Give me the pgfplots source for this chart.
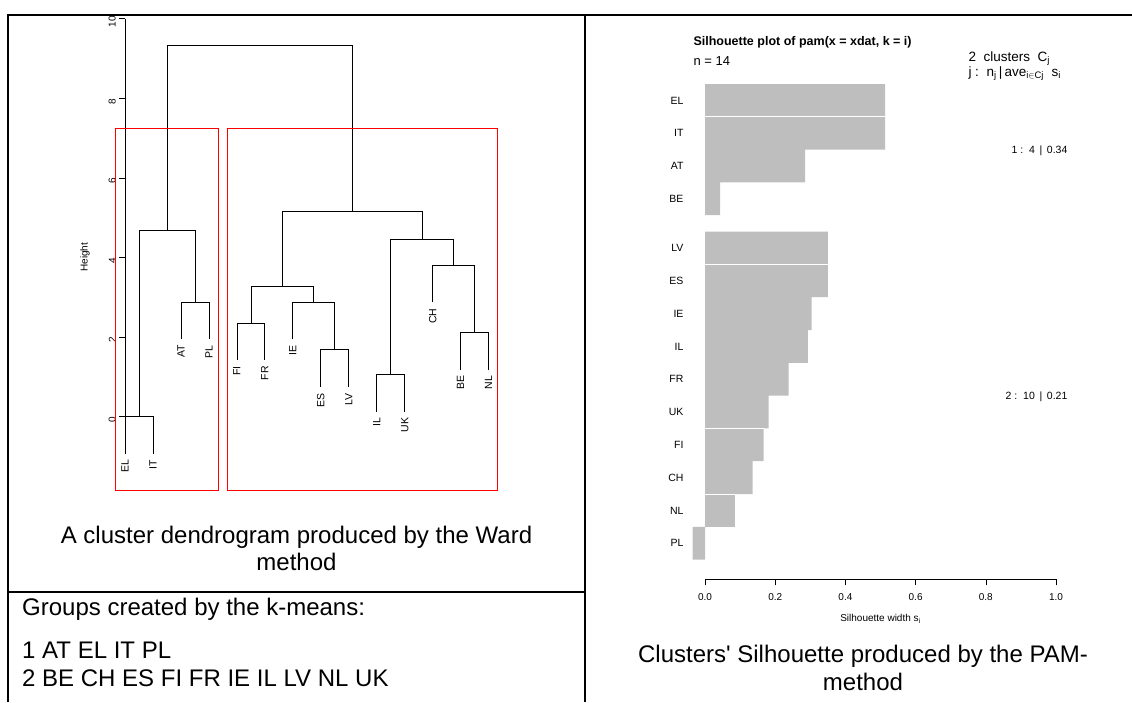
\documentclass[border=0pt]{standalone}
\usepackage{pgfplots}
\pgfplotsset{compat=1.18}
\usepackage{fontspec}
\setmainfont{Liberation Sans}
\definecolor{silgray}{RGB}{190,190,190}
\newcommand\fs[1]{\fontsize{#1}{#1}\selectfont}

% dendrogram: leaf position, height (one U per merge, nan = break)
\pgfplotstableread{
x h
1 -0.93
1 0
2 0
2 -0.93
nan nan
3 1.95
3 2.88
4 2.88
4 1.95
nan nan
1.5 0
1.5 4.67
3.5 4.67
3.5 2.88
nan nan
5 1.42
5 2.35
6 2.35
6 1.42
nan nan
8 0.75
8 1.68
9 1.68
9 0.75
nan nan
7 1.94
7 2.87
8.5 2.87
8.5 1.68
nan nan
5.5 2.35
5.5 3.27
7.75 3.27
7.75 2.87
nan nan
10 0.13
10 1.06
11 1.06
11 0.13
nan nan
13 1.18
13 2.11
14 2.11
14 1.18
nan nan
12 2.87
12 3.80
13.5 3.80
13.5 2.11
nan nan
10.5 1.06
10.5 4.46
12.75 4.46
12.75 3.80
nan nan
6.625 3.27
6.625 5.17
11.625 5.17
11.625 4.46
nan nan
2.5 4.67
2.5 9.33
9.125 9.33
9.125 5.17
}\dendro

\pgfplotstableread{
x h label
1 -0.93 EL
2 -0.93 IT
3 1.95 AT
4 1.95 PL
5 1.42 FI
6 1.42 FR
7 1.94 IE
8 0.75 ES
9 0.75 LV
10 0.13 IL
11 0.13 UK
12 2.87 CH
13 1.18 BE
14 1.18 NL
}\leaves

% silhouette widths, bar position (negative = top down)
\pgfplotstableread{
s pos
0.513 -1
0.513 -2
0.285 -3
0.043 -4
0.350 -5.5
0.350 -6.5
0.304 -7.5
0.293 -8.5
0.238 -9.5
0.181 -10.5
0.167 -11.5
0.136 -12.5
0.085 -13.5
-0.035 -14.5
}\sil

\pgfplotstableread{
x y
0 -1.5
0.513 -1.5
nan nan
0 -6
0.350 -6
nan nan
0 -11
0.167 -11
nan nan
0 -13
0.085 -13
}\gaps

\begin{document}
\begin{tikzpicture}
\useasboundingbox (0pt,0pt) rectangle (1132pt,-702pt);

\begin{scope}
\clip (9pt,-16pt) rectangle (584pt,-591pt);
\begin{axis}[
  at={(125pt,-416.7pt)}, anchor=south west,
  scale only axis, width=363.6pt, height=398pt,
  xmin=1, xmax=14, ymin=0, ymax=10,
  clip=false,
  axis y line*=left, axis x line=none,
  xtick=\empty,
  ytick={0,2,4,6,8,10},
  tick align=outside, major tick length=5.7pt,
  every tick/.style={black, line width=0.6pt},
  y axis line style={black, line width=0.6pt},
  yticklabel style={rotate=90, anchor=south, font=\fs{10}, xshift=-3pt},
  /pgf/number format/assume math mode=true,
  unbounded coords=jump,
]
\addplot[black, line width=0.7pt, mark=none] table[x=x, y=h] {\dendro};
\addplot[draw=none, mark=none, nodes near coords, point meta=explicit symbolic,
  every node near coord/.style={rotate=90, anchor=east, inner xsep=6pt, inner ysep=0pt, font=\fs{10.5}}]
  table[x=x, y=h, meta=label] {\leaves};
\addplot[red, line width=0.8pt, mark=none] coordinates {(0.66,-1.86) (4.33,-1.86) (4.33,7.25) (0.66,7.25) (0.66,-1.86)};
\addplot[red, line width=0.8pt, mark=none] coordinates {(4.66,-1.86) (14.33,-1.86) (14.33,7.25) (4.66,7.25) (4.66,-1.86)};
\node[rotate=90, font=\fs{10}] at (axis cs:-0.43,4.01) {Height};
\end{axis}
\end{scope}

\begin{axis}[
  at={(705pt,-579.3pt)}, anchor=south west,
  scale only axis, width=351pt, height=495.3pt,
  xmin=0, xmax=1, ymin=-15.6, ymax=-0.5,
  clip=false,
  axis x line*=bottom, axis y line*=left,
  y axis line style={draw=none},
  x axis line style={black, line width=0.6pt},
  ytick={-1,-2,-3,-4,-5.5,-6.5,-7.5,-8.5,-9.5,-10.5,-11.5,-12.5,-13.5,-14.5},
  yticklabels={EL,IT,AT,BE,LV,ES,IE,IL,FR,UK,FI,CH,NL,PL},
  ytick style={draw=none},
  xtick={0,0.2,0.4,0.6,0.8,1},
  xtick style={black, line width=0.6pt},
  tick align=outside, major tick length=6pt,
  xticklabel style={font=\fs{10}, yshift=-5pt, /pgf/number format/.cd, fixed, fixed zerofill, precision=1},
  yticklabel style={font=\fs{10.5}, xshift=-12pt},
  /pgf/number format/assume math mode=true,
  unbounded coords=jump,
]
\addplot[xbar, bar width=1, bar shift=0pt, fill=silgray, draw=none] table[x=s, y=pos] {\sil};
\addplot[white, line width=0.7pt, mark=none] table[x=x, y=y] {\gaps};
\node[anchor=base east, inner sep=0pt, font=\fs{10.5}] at (axis cs:1.033,-2.5) [yshift=-4pt] {1 :\ \ 4 \,|\, 0.34};
\node[anchor=base east, inner sep=0pt, font=\fs{10.5}] at (axis cs:1.033,-10) [yshift=-4pt] {2 :\ \ 10 \,|\, 0.21};
\node[anchor=base, inner sep=0pt, font=\fs{10}] at (axis cs:0.5,-15.6) [yshift=-42.4pt] {Silhouette width s\textsubscript{i}};
\end{axis}

\begin{scope}[every node/.style={inner sep=0pt}]
% silhouette header
\node[anchor=base west, font=\bfseries\fs{12.5}] at (693.3pt,-45pt) {Silhouette plot of pam(x = xdat, k = i)};
\node[anchor=base west, font=\fs{13}] at (693.3pt,-65pt) {n = 14};
\node[anchor=base west, font=\fs{13.5}] at (968.3pt,-61.7pt) {2\ \ clusters\ \ C\textsubscript{j}};
\node[anchor=base west, font=\fs{13.5}] at (968.3pt,-76pt) {j :\ \ n\textsubscript{j}\,|\,ave\textsubscript{i$\in$Cj}\ \ s\textsubscript{i}};

% captions
\node[anchor=base, font=\fs{24}] at (296.5pt,-543.3pt) {A cluster dendrogram produced by the Ward};
\node[anchor=base, font=\fs{24}] at (296.5pt,-570pt) {method};
\node[anchor=base west, font=\fs{24}] at (22pt,-615pt) {Groups created by the k-means:};
\node[anchor=base west, font=\fs{24}] at (22pt,-658pt) {1 AT EL IT PL};
\node[anchor=base west, font=\fs{24}] at (22pt,-686.7pt) {2 BE CH ES FI FR IE IL LV NL UK};
\node[anchor=base, font=\fs{24}] at (863pt,-662.7pt) {Clusters\textquotesingle{} Silhouette produced by the PAM-};
\node[anchor=base, font=\fs{24}] at (863pt,-690pt) {method};
\end{scope}

% table rules
\draw[line width=2pt] (8pt,-702pt) -- (8pt,-15pt) -- (1132pt,-15pt);
\draw[line width=2pt] (584.7pt,-15pt) -- (584.7pt,-702pt);
\draw[line width=2pt] (8pt,-592pt) -- (584.7pt,-592pt);
\end{tikzpicture}
\end{document}
